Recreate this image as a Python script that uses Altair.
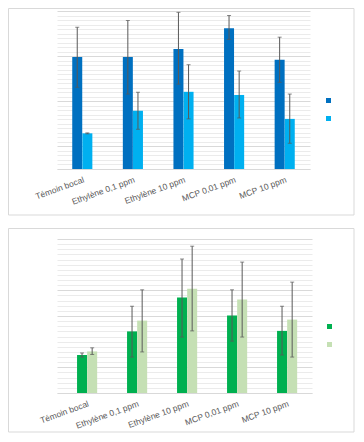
import altair as alt
import pandas as pd

categories = ["Témoin bocal", "Ethylène 0,1 ppm", "Ethylène 10 ppm", "MCP 0,01 ppm", "MCP 10 ppm"]
series_names = ["Série 1", "Série 2"]

# top panel (blue)
top_s1 = [24.8, 24.8, 26.6, 31.2, 24.2]
top_s1_lo = [18.1, 16.6, 18.8, 28.7, 19.2]
top_s1_hi = [31.4, 32.9, 34.7, 34.0, 29.2]
top_s2 = [7.9, 12.9, 17.1, 16.4, 11.1]
top_s2_lo = [7.8, 8.8, 11.1, 11.3, 5.7]
top_s2_hi = [8.0, 17.0, 23.1, 21.7, 16.6]

# bottom panel (green)
bot_s1 = [7.4, 12.0, 18.6, 15.1, 12.1]
bot_s1_lo = [7.0, 7.0, 10.9, 10.1, 7.4]
bot_s1_hi = [7.8, 16.9, 26.1, 20.1, 16.9]
bot_s2 = [8.1, 14.1, 20.3, 18.2, 14.3]
bot_s2_lo = [7.5, 8.0, 12.1, 10.9, 7.0]
bot_s2_hi = [8.8, 20.1, 28.6, 25.5, 21.6]

top_colors = ["#0070C0", "#00B0F0"]
bot_colors = ["#00B050", "#C5E0B4"]


def frame(s1, s1lo, s1hi, s2, s2lo, s2hi):
    rows = []
    for i, c in enumerate(categories):
        rows.append({"cat": c, "series": series_names[0], "v": s1[i], "lo": s1lo[i], "hi": s1hi[i]})
        rows.append({"cat": c, "series": series_names[1], "v": s2[i], "lo": s2lo[i], "hi": s2hi[i]})
    return pd.DataFrame(rows)


def panel(df, colors, ymax, majors, width, height, xscale, box, legend_xy):
    minor = list(range(0, ymax + 1))
    xenc = alt.X("cat:N", sort=categories, scale=xscale,
                 axis=alt.Axis(title=None, labelAngle=-20, ticks=False, domain=True,
                               domainColor="#d9d9d9", labelColor="#595959",
                               labelFont="Liberation Sans", labelFontSize=8.5,
                               labelPadding=6))
    yscale = alt.Scale(domain=[0, ymax], nice=False)
    yaxis = alt.Axis(title=None, labels=False, ticks=False, domain=False, values=minor,
                     grid=True,
                     gridColor={"condition": {"test": "indexof(" + str(majors) + ", datum.value) >= 0",
                                              "value": "#d9d9d9"},
                                "value": "#ebebeb"},
                     gridWidth=1)
    base = alt.Chart(df)
    bars = base.mark_bar(size=10).encode(
        x=xenc,
        xOffset=alt.XOffset("series:N", sort=series_names),
        y=alt.Y("v:Q", scale=yscale, axis=yaxis),
        color=alt.Color("series:N", sort=series_names,
                        scale=alt.Scale(domain=series_names, range=colors),
                        legend=alt.Legend(title=None, orient="none", legendX=legend_xy[0],
                                          legendY=legend_xy[1], symbolType="square",
                                          symbolSize=25, symbolStrokeWidth=0,
                                          labelExpr="''", labelFontSize=5,
                                          rowPadding=12, padding=0)),
    )
    rules = base.mark_rule(color="#595959", strokeWidth=1).encode(
        x=xenc, xOffset=alt.XOffset("series:N", sort=series_names),
        y=alt.Y("lo:Q", scale=yscale, axis=yaxis), y2="hi:Q")
    cap_lo = base.mark_tick(color="#595959", size=4, thickness=1).encode(
        x=xenc, xOffset=alt.XOffset("series:N", sort=series_names),
        y=alt.Y("lo:Q", scale=yscale, axis=yaxis))
    cap_hi = base.mark_tick(color="#595959", size=4, thickness=1).encode(
        x=xenc, xOffset=alt.XOffset("series:N", sort=series_names),
        y=alt.Y("hi:Q", scale=yscale, axis=yaxis))
    border = alt.Chart(pd.DataFrame({"k": [0]})).mark_rect(
        fill=None, stroke="#d9d9d9", strokeWidth=1).encode(
        x=alt.value(box[0]), x2=alt.value(box[1]), y=alt.value(box[2]), y2=alt.value(box[3]))
    return alt.layer(border, bars, rules, cap_lo, cap_hi).properties(width=width, height=height)


top = panel(frame(top_s1, top_s1_lo, top_s1_hi, top_s2, top_s2_lo, top_s2_hi),
            top_colors, 35, [5, 15, 25, 35], 253, 158,
            alt.Scale(paddingInner=0.6, paddingOuter=0.3),
            [-48.5, 297, -2.5, 204], [269, 87])
bottom = panel(frame(bot_s1, bot_s1_lo, bot_s1_hi, bot_s2, bot_s2_lo, bot_s2_hi),
               bot_colors, 30, [5, 15, 20, 30], 255, 154,
               alt.Scale(paddingInner=0.6, paddingOuter=0.35, align=0.571),
               [-48.5, 297, -10.5, 193], [270, 85])

chart = alt.vconcat(top, bottom, spacing=12).resolve_scale(
    color="independent", y="independent", x="independent").properties(
    padding={"left": 0, "top": 0, "right": 0, "bottom": 0}
).configure_view(stroke=None)

chart.save("out.html", embed_options={"renderer": "svg", "actions": False})
